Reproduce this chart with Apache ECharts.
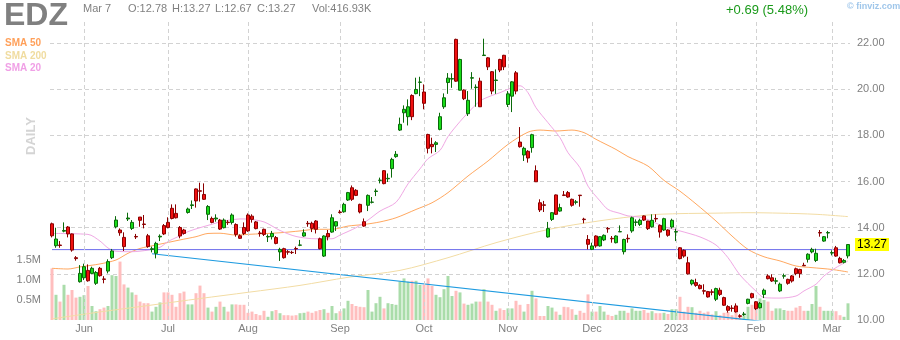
<!DOCTYPE html>
<html>
<head>
<meta charset="utf-8">
<title>EDZ daily</title>
<script src="https://cdn.jsdelivr.net/npm/echarts@6/dist/echarts.min.js"></script>
<style>
  html, body { margin: 0; padding: 0; background: #fff; }
  #chart { width: 900px; height: 340px; }
</style>
</head>
<body>
<div id="chart"></div>
<script>
const ticker = 'EDZ';
const FONT = '"Liberation Sans", Arial, Helvetica, sans-serif';

// Trading sessions, month by month
const sessionMonths = ['2022-05', '2022-06', '2022-07', '2022-08', '2022-09', '2022-10',
                       '2022-11', '2022-12', '2023-01', '2023-02', '2023-03'];
const monthLabels = ['', 'Jun', 'Jul', 'Aug', 'Sep', 'Oct', 'Nov', 'Dec', '2023', 'Feb', 'Mar'];
const sessionDays = [
  [19, 20, 23, 24, 25, 26, 27, 31],
  [1, 2, 3, 6, 7, 8, 9, 10, 13, 14, 15, 16, 17, 21, 22, 23, 24, 27, 28, 29, 30],
  [1, 5, 6, 7, 8, 11, 12, 13, 14, 15, 18, 19, 20, 21, 22, 25, 26, 27, 28, 29],
  [1, 2, 3, 4, 5, 8, 9, 10, 11, 12, 15, 16, 17, 18, 19, 22, 23, 24, 25, 26, 29, 30, 31],
  [1, 2, 6, 7, 8, 9, 12, 13, 14, 15, 16, 19, 20, 21, 22, 23, 26, 27, 28, 29, 30],
  [3, 4, 5, 6, 7, 10, 11, 12, 13, 14, 17, 18, 19, 20, 21, 24, 25, 26, 27, 28, 31],
  [1, 2, 3, 4, 7, 8, 9, 10, 11, 14, 15, 16, 17, 18, 21, 22, 23, 25, 28, 29, 30],
  [1, 2, 5, 6, 7, 8, 9, 12, 13, 14, 15, 16, 19, 20, 21, 22, 23, 27, 28, 29, 30],
  [3, 4, 5, 6, 9, 10, 11, 12, 13, 17, 18, 19, 20, 23, 24, 25, 26, 27, 30, 31],
  [1, 2, 3, 6, 7, 8, 9, 10, 13, 14, 15, 16, 17, 21, 22, 23, 24, 27, 28],
  [1, 2, 3, 6, 7]
];

// Daily prices
const open = [
  14.17,13.22,13.25,13.85,14.03,13.73,12.70,11.66,11.83,12.15,
  12.02,11.59,12.24,11.78,12.12,12.70,14.04,13.90,13.58,14.38,
  13.97,13.62,14.46,14.16,13.65,13.06,12.89,13.60,14.09,14.23,
  14.84,14.62,14.01,13.90,14.66,14.96,15.68,15.60,15.44,14.58,
  14.40,14.38,14.33,14.00,14.24,14.23,14.14,13.65,14.01,14.55,
  14.50,14.25,13.77,13.93,13.60,13.61,13.57,12.95,13.09,12.96,
  12.93,13.10,13.24,13.64,14.19,14.19,14.29,13.52,12.77,13.75,
  13.81,14.07,14.68,14.69,15.20,15.73,15.62,15.01,14.26,14.97,
  15.10,15.57,16.05,16.47,16.12,16.56,17.08,18.23,18.98,18.81,
  19.73,19.81,20.30,19.88,18.04,17.61,17.61,18.26,19.24,20.29,
  20.44,22.16,19.96,19.96,18.94,20.48,20.07,20.35,21.46,21.36,
  20.76,20.38,21.29,21.47,19.34,19.70,20.71,17.71,17.15,17.31,
  17.47,16.47,15.08,14.99,13.60,14.36,15.42,14.72,15.42,15.52,
  15.23,15.10,15.41,14.37,13.49,13.06,13.64,13.21,13.47,13.97,
  13.54,13.35,13.82,12.96,13.54,13.86,14.23,14.14,14.51,14.29,
  14.04,14.40,14.10,13.90,13.90,14.03,13.81,13.13,13.02,12.48,
  11.57,11.62,11.50,11.27,11.23,11.22,10.90,11.29,10.97,10.58,
  10.52,10.61,10.18,10.24,10.72,11.14,10.79,10.53,11.11,11.91,
  11.83,11.68,11.26,11.90,11.76,11.91,12.22,12.19,12.37,12.63,
  12.95,12.58,13.79,13.42,13.77,12.90,13.13,12.67,12.50,12.78
];
const high = [
  14.22,14.00,13.42,14.23,14.07,13.75,12.77,12.38,12.44,12.41,
  12.31,12.12,12.30,11.90,12.63,13.08,14.50,13.97,13.80,14.65,
  14.33,13.73,14.46,14.55,13.73,13.18,13.39,13.71,14.16,14.45,
  15.01,15.01,14.07,13.95,14.87,15.18,15.70,15.95,15.92,14.98,
  14.48,14.58,14.38,14.40,14.33,14.62,14.19,13.71,14.23,14.62,
  14.58,14.29,13.86,13.96,13.71,13.86,13.64,13.13,13.13,13.03,
  13.00,13.18,13.47,13.93,14.29,14.26,14.33,13.57,13.67,13.90,
  14.58,14.29,14.77,15.08,15.55,15.83,15.67,15.04,14.40,15.44,
  15.33,15.69,16.17,16.50,16.35,17.03,17.32,18.77,19.30,19.56,
  19.78,20.50,20.54,20.21,18.07,17.90,17.75,18.98,19.82,20.70,
  20.69,22.19,21.32,19.99,19.92,20.74,20.21,20.50,22.19,21.39,
  20.79,20.86,21.32,21.49,19.92,20.35,20.79,18.36,17.51,17.36,
  18.07,16.70,15.23,15.16,14.25,14.68,15.44,15.04,15.59,15.59,
  15.26,15.20,15.41,14.43,13.68,13.35,13.67,13.64,13.71,14.03,
  13.64,13.67,14.10,13.52,13.71,14.48,14.36,14.39,14.53,14.30,
  14.58,14.58,14.14,14.43,13.93,14.39,13.96,13.16,13.06,12.74,
  11.76,11.79,11.55,11.55,11.26,11.33,11.40,11.40,11.01,10.64,
  10.64,10.72,10.25,10.35,10.92,11.18,10.82,10.78,11.36,11.98,
  11.98,11.83,11.62,12.01,11.79,11.95,12.27,12.22,12.48,12.89,
  13.13,13.09,13.90,13.64,13.86,13.02,13.21,12.74,12.64,13.27
];
const low = [
  13.58,13.13,13.13,13.80,13.58,12.96,12.57,11.62,11.73,11.66,
  11.98,11.52,11.88,11.59,12.02,12.64,13.97,13.65,12.99,14.29,
  13.90,13.51,14.04,13.97,13.13,12.93,12.67,13.42,13.68,13.97,
  14.36,14.40,13.54,13.70,14.61,14.81,14.87,15.13,15.20,14.33,
  14.19,14.26,13.90,13.97,14.12,14.14,13.61,13.51,13.68,13.82,
  14.22,13.93,13.61,13.64,13.38,13.49,13.28,12.56,12.66,12.83,
  12.86,12.86,13.20,13.61,14.04,13.81,13.75,13.06,12.73,13.45,
  13.78,13.86,14.61,14.65,15.16,15.16,15.37,14.62,14.04,14.72,
  15.05,15.37,15.92,15.88,15.98,16.17,17.03,18.19,18.55,18.43,
  18.66,19.78,19.70,19.13,17.22,17.22,17.28,18.22,19.15,19.80,
  20.06,20.32,19.95,19.53,18.84,20.02,19.24,19.23,21.44,20.83,
  19.78,19.80,20.74,20.83,19.23,19.01,19.78,17.47,16.89,16.82,
  17.25,15.98,14.68,14.68,13.57,14.29,14.55,14.69,15.37,15.30,
  14.91,15.01,14.91,14.19,13.06,13.03,13.13,13.18,13.42,13.78,
  13.35,13.32,13.82,12.84,13.35,13.78,14.07,14.07,14.29,13.90,
  14.00,14.25,13.57,13.86,13.61,13.96,13.42,12.63,12.70,11.97,
  11.50,11.44,11.33,11.11,10.97,11.07,10.82,11.04,10.61,10.32,
  10.36,10.32,10.10,10.18,10.68,10.93,10.43,10.50,10.95,11.76,
  11.65,11.55,11.21,11.79,11.53,11.62,11.94,11.83,12.35,12.49,
  12.89,12.51,13.61,13.39,13.54,12.80,12.74,12.45,12.45,12.67
];
const close = [
  13.65,13.51,13.23,13.88,13.73,13.03,12.66,12.02,12.31,11.70,
  12.24,12.06,11.92,11.76,12.53,12.99,14.33,13.78,13.18,14.42,
  14.23,13.60,14.32,14.14,13.18,13.09,13.32,13.63,13.73,14.01,
  14.40,14.43,13.64,13.75,14.81,14.99,15.16,15.58,15.23,14.92,
  14.23,14.42,13.94,14.33,14.22,14.55,13.71,13.54,13.75,13.86,
  14.36,13.96,13.75,13.71,13.62,13.75,13.32,13.06,12.70,12.94,
  12.92,13.08,13.25,13.78,14.17,13.97,13.93,13.09,13.64,13.60,
  14.43,14.26,14.66,15.01,15.52,15.23,15.40,14.68,14.07,15.40,
  15.11,15.59,16.06,15.91,16.14,16.96,17.18,18.48,19.13,19.24,
  18.81,19.99,20.31,19.39,17.44,17.51,17.68,18.81,19.63,20.48,
  20.46,20.35,21.29,19.59,19.52,20.50,20.09,19.24,21.48,20.97,
  19.92,20.40,20.83,20.97,19.80,20.32,19.92,17.51,17.44,17.02,
  18.03,15.99,14.77,14.97,13.96,14.65,14.58,14.87,15.40,15.33,
  14.97,15.12,15.39,14.35,13.28,13.21,13.21,13.61,13.67,13.95,
  13.52,13.64,13.83,13.49,13.52,14.43,14.25,14.32,14.33,13.96,
  14.32,14.38,13.81,14.39,13.67,14.32,13.83,12.66,12.77,12.00,
  11.72,11.50,11.36,11.25,11.00,11.20,11.36,11.11,10.64,10.42,
  10.50,10.35,10.16,10.26,10.90,10.97,10.49,10.72,11.29,11.79,
  11.69,11.70,11.55,11.92,11.59,11.69,12.01,12.01,12.35,12.85,
  13.06,12.89,13.77,13.61,13.79,12.92,12.77,12.48,12.58,13.27
];
// Daily volume, millions of shares
const volume = [
  1.29,0.63,0.46,0.88,0.63,0.75,0.56,0.58,0.62,0.85,
  0.35,0.22,0.27,0.31,0.35,1.12,1.10,1.46,0.89,0.81,
  0.69,0.63,0.46,0.42,0.42,0.21,0.33,0.44,0.69,0.69,
  0.63,0.33,0.67,0.71,0.39,0.39,0.67,0.86,0.67,0.31,
  0.21,0.33,0.46,0.33,0.21,0.39,0.39,0.38,0.38,0.18,
  0.21,0.15,0.12,0.23,0.08,0.22,0.25,0.17,0.12,0.12,
  0.11,0.12,0.17,0.18,0.21,0.18,0.22,0.25,0.27,0.18,
  0.35,0.17,0.22,0.29,0.48,0.40,0.35,0.33,0.32,0.75,
  0.21,0.42,0.58,0.29,0.42,0.40,0.38,0.96,1.04,0.96,
  0.98,0.98,0.88,0.88,1.04,0.85,0.63,0.57,0.77,1.10,
  0.60,0.73,0.69,0.41,0.38,0.41,0.46,0.46,0.77,0.46,
  0.38,0.23,0.29,0.25,0.29,0.29,0.48,0.38,0.21,0.40,
  0.73,0.54,0.10,0.10,0.35,0.31,0.21,0.13,0.33,0.32,
  0.27,0.13,0.23,0.18,0.64,0.21,0.21,0.35,0.21,0.13,
  0.10,0.13,0.23,0.23,0.18,0.29,0.23,0.23,0.25,0.18,
  0.22,0.17,0.17,0.18,0.15,0.27,0.27,0.58,0.21,0.33,
  0.32,0.18,0.23,0.18,0.21,0.14,0.22,0.12,0.18,0.20,
  0.12,0.18,0.12,0.12,0.33,0.38,0.43,0.54,0.50,0.46,
  0.23,0.29,0.29,0.25,0.23,0.23,0.31,0.35,0.23,0.23,
  0.40,0.85,0.33,0.23,0.23,0.23,0.22,0.12,0.08,0.41693
];

// Moving averages, [session index, value]
const sma20 = [
  [0,13.75],[9,13.71],[12,13.42],[14,13.12],[16,12.98],[20,12.96],[24,13.03],[27,13.15],
  [29,13.40],[32,13.65],[34,13.83],[37,14.00],[40,14.15],[42,14.25],[44,14.32],[47,14.38],
  [49,14.37],[53,14.25],[57,13.88],[61,13.62],[66,13.52],[70,13.52],[72,13.68],[76,14.00],
  [79,14.33],[82,14.72],[86,15.10],[89,15.90],[92,16.55],[94,16.99],[97,17.35],[99,17.95],
  [102,18.60],[104,18.98],[107,19.49],[110,19.73],[112,19.85],[115,20.07],[117,20.15],
  [119,19.85],[121,19.20],[124,18.55],[127,17.90],[129,17.25],[132,16.60],[134,15.80],
  [137,15.16],[139,14.79],[142,14.62],[144,14.51],[147,14.46],[149,14.35],[153,14.05],
  [157,13.86],[162,13.60],[166,13.25],[169,12.70],[172,11.95],[176,11.25],[178,10.97],
  [182,10.95],[186,11.04],[188,11.26],[191,11.55],[193,11.91],[196,12.27],[199,12.56]
];
const sma50 = [
  [0,12.24],[4,12.21],[7,12.30],[12,12.43],[16,12.60],[19,12.89],[22,13.10],[26,13.25],
  [29,13.36],[32,13.47],[36,13.61],[39,13.75],[42,13.76],[46,13.68],[49,13.71],[57,13.78],
  [62,13.86],[66,13.93],[70,13.93],[74,14.07],[78,14.14],[82,14.25],[86,14.43],[91,14.79],
  [95,15.08],[99,15.52],[104,16.24],[109,16.89],[114,17.61],[119,18.14],[122,18.23],
  [126,18.19],[130,18.23],[133,18.12],[136,17.83],[141,17.39],[144,17.08],[149,16.67],
  [153,16.05],[157,15.58],[161,15.03],[166,14.29],[170,13.64],[174,13.06],[178,12.74],
  [182,12.56],[186,12.34],[190,12.27],[195,12.19],[199,12.08]
];
const sma200 = [
  [0,10.05],[12,10.35],[25,10.65],[37,10.93],[49,11.20],[62,11.50],[74,11.85],[87,12.15],
  [99,12.70],[111,13.35],[124,13.92],[137,14.30],[149,14.55],[157,14.61],[166,14.63],
  [174,14.65],[182,14.63],[191,14.58],[199,14.48]
];

// Drawn trendlines
const trendline = [[25, 12.87], [178, 9.93]];
const supportLine = [[0, 13.05], [199, 13.05]];

const priceTicks = { min: 10, max: 23, step: 2 };
const volumeTicks = [0.5, 1.0, 1.5];

// ---- build category list
const dates = [];
const monthStart = {};
sessionMonths.forEach((ym, m) => {
  sessionDays[m].forEach((d, k) => {
    if (k === 0 && monthLabels[m]) monthStart[dates.length] = monthLabels[m];
    dates.push(ym + '-' + String(d).padStart(2, '0'));
  });
});
const last = dates.length - 1;

const candleData = dates.map((_, i) => [open[i], close[i], low[i], high[i]]);
const volData = dates.map((_, i) => ({
  value: volume[i],
  itemStyle: { color: close[i] >= open[i] ? '#aadcaa' : '#ffbebe' }
}));
const toPoints = arr => arr.map(([i, v]) => [dates[i], v]);

const change = close[last] - close[last - 1];
const changePct = change / close[last - 1] * 100;
const lastDay = new Date(dates[last] + 'T00:00:00');
const headerDate = lastDay.toLocaleString('en-US', { month: 'short' }) + ' ' + lastDay.getDate();

const gray = '#808080';
function txt(text, x, y, size, color, extra) {
  return {
    type: 'text', x: x, y: y, silent: true,
    style: Object.assign({
      text: text, fill: color, font: size + 'px ' + FONT,
      align: 'left', verticalAlign: 'middle',
      textAlign: 'left', textVerticalAlign: 'middle'
    }, extra || {})
  };
}

const chart = echarts.init(document.getElementById('chart'), null, { renderer: 'canvas' });
chart.setOption({
  animation: false,
  backgroundColor: '#ffffff',
  grid: { left: 50, right: 50, top: 20, bottom: 20 },
  xAxis: {
    type: 'category',
    data: dates,
    boundaryGap: true,
    axisLine: { show: false },
    axisTick: { show: false },
    splitLine: { show: false },
    axisLabel: {
      interval: (i) => monthStart[i] !== undefined,
      formatter: (v, i) => monthStart[i] || '',
      color: gray, fontSize: 11, fontFamily: FONT, margin: 3
    }
  },
  yAxis: [
    {
      type: 'value', position: 'right',
      min: priceTicks.min, max: priceTicks.max, interval: priceTicks.step,
      axisLine: { show: false }, axisTick: { show: false },
      axisLabel: {
        formatter: v => v.toFixed(2), color: gray, fontSize: 11, fontFamily: FONT,
        margin: 7, showMaxLabel: false
      },
      splitLine: {
        show: true, showMinLine: false, showMaxLine: false,
        lineStyle: { color: '#d2d2d2', type: [4, 3], width: 1 }
      }
    },
    {
      type: 'value', position: 'left',
      min: 0, max: 7.5, interval: 0.5,
      axisLine: { show: false }, axisTick: { show: false },
      splitLine: { show: false },
      axisLabel: {
        formatter: v => volumeTicks.some(t => Math.abs(t - v) < 1e-6) ? v.toFixed(1) + 'M' : '',
        color: gray, fontSize: 11, fontFamily: FONT, margin: 9
      }
    }
  ],
  series: [
    {
      name: 'Volume', type: 'bar', yAxisIndex: 1, data: volData,
      barWidth: 3, z: 1, silent: true,
      markLine: {
        silent: true, symbol: ['none', 'none'], label: { show: false },
        lineStyle: { color: '#d2d2d2', type: [4, 3], width: 1 },
        data: Object.keys(monthStart).map(i => ({ xAxis: dates[i] }))
      }
    },
    {
      name: 'SMA 200', type: 'line', data: toPoints(sma200), symbol: 'none', z: 2,
      smooth: 0.3, lineStyle: { color: '#f2dca4', width: 1 }, silent: true
    },
    {
      name: 'SMA 50', type: 'line', data: toPoints(sma50), symbol: 'none', z: 2,
      smooth: 0.3, lineStyle: { color: '#ffa860', width: 1 }, silent: true
    },
    {
      name: 'SMA 20', type: 'line', data: toPoints(sma20), symbol: 'none', z: 2,
      smooth: 0.3, lineStyle: { color: '#f0a8e4', width: 1 }, silent: true
    },
    {
      name: 'Trend', type: 'line', data: toPoints(trendline), symbol: 'none', z: 3,
      lineStyle: { color: '#1e9be0', width: 1.2 }, silent: true
    },
    {
      name: 'Support', type: 'line', data: toPoints(supportLine), symbol: 'none', z: 3,
      lineStyle: { color: '#6c6cec', width: 1 }, silent: true
    },
    {
      name: ticker, type: 'candlestick', data: candleData, z: 5,
      barWidth: 3, silent: true,
      itemStyle: {
        color: '#18dc18', color0: '#f01010',
        borderColor: '#0a6a0a', borderColor0: '#8a0000', borderWidth: 1
      },
      markLine: {
        silent: true, symbol: ['none', 'none'],
        lineStyle: { color: 'rgba(255,255,255,0)', width: 0 },
        label: {
          show: true, position: 'end', distance: 5,
          formatter: () => close[last].toFixed(2),
          backgroundColor: '#ffff00', color: '#000000', padding: [1, 2, 0, 2],
          fontSize: 12, fontFamily: FONT
        },
        data: [{ yAxis: close[last] }]
      }
    }
  ],
  graphic: [
    txt(ticker, 4, 16, 32, gray, { font: 'bold 32px ' + FONT }),
    txt(headerDate, 83, 8.5, 11, gray),
    txt('O:' + open[last].toFixed(2), 128, 8.5, 11, gray),
    txt('H:' + high[last].toFixed(2), 172, 8.5, 11, gray),
    txt('L:' + low[last].toFixed(2), 215, 8.5, 11, gray),
    txt('C:' + close[last].toFixed(2), 257, 8.5, 11, gray),
    txt('Vol:' + (volume[last] * 1000).toFixed(2) + 'K', 312, 8.5, 11, gray),
    txt((change >= 0 ? '+' : '') + change.toFixed(2) + ' (' + changePct.toFixed(2) + '%)', 726, 10, 13,
        change >= 0 ? '#1a9a1a' : '#d01010'),
    txt('\u00a9 finviz.com', 847, 7, 9, '#9fc6ea', { font: 'bold 9px ' + FONT }),
    txt('SMA 50', 5, 43.5, 10, '#ffa05a', { font: 'bold 10px ' + FONT }),
    txt('SMA 200', 5, 56, 10, '#f0dca0', { font: 'bold 10px ' + FONT }),
    txt('SMA 20', 5, 68, 10, '#f0a0e6', { font: 'bold 10px ' + FONT }),
    {
      type: 'text', x: 31, y: 136, rotation: Math.PI / 2, silent: true,
      style: {
        text: 'DAILY', fill: '#d4d4d4', font: 'bold 13px ' + FONT,
        align: 'center', verticalAlign: 'middle', textAlign: 'center', textVerticalAlign: 'middle'
      }
    }
  ]
});
</script>
</body>
</html>
